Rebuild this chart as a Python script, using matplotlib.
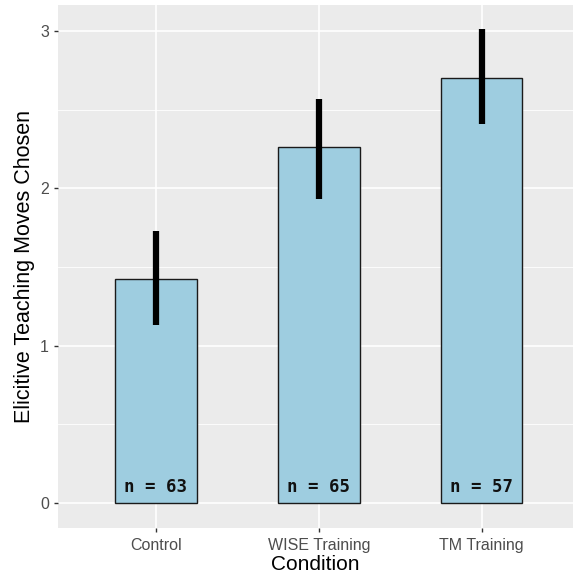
import matplotlib
matplotlib.use("Agg")
import matplotlib.pyplot as plt
import numpy as np

plt.rcParams["font.family"] = ["Liberation Sans", "DejaVu Sans"]

categories = ["Control", "WISE Training", "TM Training"]
means = [1.42, 2.26, 2.70]
err_low = [1.13, 1.93, 2.41]
err_high = [1.73, 2.57, 3.01]
n_labels = ["n = 63", "n = 65", "n = 57"]
yticks = [0, 1, 2, 3]

fig = plt.figure(figsize=(5.73, 5.78), dpi=100)
ax = fig.add_axes([58/573, 50/578, 1 - 58/573, 523/578])
ax.set_facecolor("#EBEBEB")
x = np.arange(1, len(categories) + 1)

for yv in [0.5, 1.5, 2.5]:
    ax.axhline(yv, color="white", lw=0.6, zorder=0)
for yv in yticks:
    ax.axhline(yv, color="white", lw=1.2, zorder=0)
for xv in x:
    ax.axvline(xv, color="white", lw=1.2, zorder=0)

ax.bar(x, means, width=0.5, color="#9ECDE0", edgecolor="#1a1a1a", linewidth=1.0, zorder=2)
ax.vlines(x, err_low, err_high, color="black", lw=4.5, zorder=3)
for xi, t in zip(x, n_labels):
    ax.text(xi, 0.1, t, ha="center", va="center", fontsize=12.5, fontweight="bold",
            family="DejaVu Sans Mono", color="#111111", zorder=4)

ax.set_xlim(0.4, 3.56)
ax.set_ylim(-0.16, 3.165)
ax.set_xticks(x)
ax.set_xticklabels(categories)
ax.set_yticks(yticks)
ax.tick_params(axis="both", colors="#333333", labelcolor="#4D4D4D", labelsize=11.5, length=3, width=1)
ax.tick_params(axis="x", pad=4)
for s in ax.spines.values():
    s.set_visible(False)
ax.set_xlabel("Condition", fontsize=15, color="black", labelpad=2)
ax.set_ylabel("Elicitive Teaching Moves Chosen", fontsize=15.5, color="black", labelpad=4)

fig.savefig("out.png", dpi=100)
